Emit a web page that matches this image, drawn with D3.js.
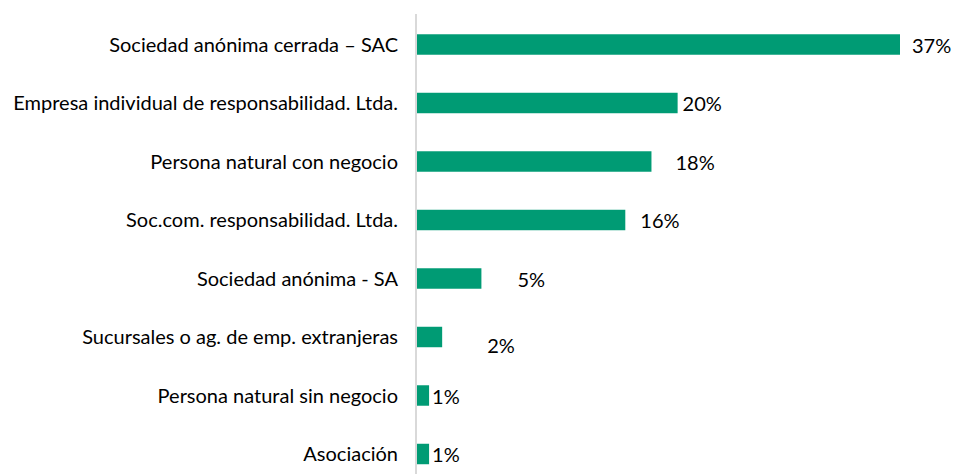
<!DOCTYPE html>
<html><head><meta charset="utf-8">
<script src="https://cdn.jsdelivr.net/npm/d3@7"></script>
<style>body{margin:0;background:#fff}svg{display:block}</style>
</head><body>
<svg id="chart" width="954" height="474"></svg>
<script>
const categories = [
  "Sociedad anónima cerrada – SAC",
  "Empresa individual de responsabilidad. Ltda.",
  "Persona natural con negocio",
  "Soc.com. responsabilidad. Ltda.",
  "Sociedad anónima - SA",
  "Sucursales o ag. de emp. extranjeras",
  "Persona natural sin negocio",
  "Asociación"
];
const values = [37, 20, 18, 16, 5, 2, 1, 1];
const valueLabels = ["37%", "20%", "18%", "16%", "5%", "2%", "1%", "1%"];
// manual label nudges (as placed in the original), in px
const labelNudgeX = [12, 5, 24, 15, 36, 45, 3, 3];
const labelNudgeY = [1, 1, 1, 1, 1, 9, 1, 1];

const svg = d3.select("#chart");
const axisX = 416;
const x = d3.scaleLinear().domain([0, 37]).range([axisX, 900]);
const y = d3.scaleBand().domain(categories).range([15.25, 483.25]).paddingInner(0.65).paddingOuter(0.325);
const font = "Lato, 'Open Sans', sans-serif";

svg.append("g").selectAll("rect").data(values).join("rect")
  .attr("x", axisX)
  .attr("y", (d, i) => y(categories[i]))
  .attr("width", d => x(d) - axisX)
  .attr("height", y.bandwidth())
  .attr("fill", "#009b74");

svg.append("line")
  .attr("x1", axisX).attr("x2", axisX)
  .attr("y1", 14).attr("y2", 474)
  .attr("stroke", "#d9d9d9").attr("stroke-width", 2);

svg.append("g").selectAll("text").data(categories).join("text")
  .attr("x", 398)
  .attr("y", d => y(d) + y.bandwidth() / 2)
  .attr("dy", "0.35em")
  .attr("text-anchor", "end")
  .attr("font-family", font)
  .attr("font-size", 20)
  .attr("fill", "#000")
  .text(d => d);

svg.append("g").selectAll("text").data(values).join("text")
  .attr("x", (d, i) => x(d) + labelNudgeX[i])
  .attr("y", (d, i) => y(categories[i]) + y.bandwidth() / 2 + labelNudgeY[i])
  .attr("dy", "0.35em")
  .attr("font-family", font)
  .attr("font-size", 20)
  .attr("fill", "#000")
  .text((d, i) => valueLabels[i]);
</script>
</body></html>
